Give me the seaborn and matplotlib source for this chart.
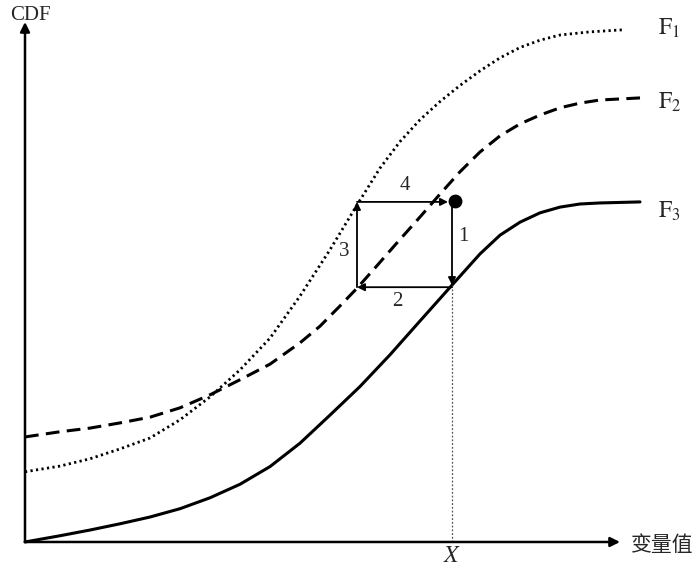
import matplotlib

matplotlib.use("Agg")
import matplotlib.pyplot as plt
import pandas as pd
import seaborn as sns

# values (x: variable value, y: CDF)
f1_x = [0, 35, 65, 95, 125, 155, 185, 215, 245, 275, 305, 332, 355, 375, 395, 415,
        435, 455, 475, 495, 515, 535, 565, 598]
f1_y = [0.135, 0.146, 0.160, 0.179, 0.200, 0.235, 0.279, 0.331, 0.392, 0.473, 0.562,
        0.648, 0.719, 0.770, 0.812, 0.847, 0.878, 0.906, 0.931, 0.951, 0.965, 0.975,
        0.981, 0.985]

f2_x = [0, 35, 65, 95, 125, 155, 185, 215, 245, 275, 295, 315, 332, 350, 370, 395,
        415, 435, 455, 475, 495, 515, 535, 555, 575, 615]
f2_y = [0.202, 0.212, 0.219, 0.229, 0.240, 0.258, 0.283, 0.312, 0.342, 0.383, 0.415,
        0.454, 0.488, 0.527, 0.571, 0.625, 0.669, 0.712, 0.750, 0.781, 0.804, 0.821,
        0.835, 0.844, 0.850, 0.854]

f3_x = [0, 35, 65, 95, 125, 155, 185, 215, 245, 275, 305, 335, 365, 395, 427, 455,
        475, 495, 515, 535, 555, 575, 615]
f3_y = [0.0, 0.012, 0.023, 0.035, 0.048, 0.064, 0.085, 0.111, 0.145, 0.190, 0.244,
        0.299, 0.360, 0.425, 0.494, 0.554, 0.590, 0.615, 0.633, 0.644, 0.650, 0.652,
        0.654]

curve_labels = [r"$\mathrm{F}_1$", r"$\mathrm{F}_2$", r"$\mathrm{F}_3$"]

# the loop: start point, its x value X, and the shifted level on F1
x_value = 427
x_left = 332
y_start = 0.656
y_low = 0.490
y_top = 0.654
step_labels = ["1", "2", "3", "4"]

sns.set_style("white")
plt.rcParams["font.family"] = ["Liberation Serif", "Noto Sans CJK SC", "DejaVu Sans"]
plt.rcParams["mathtext.fontset"] = "stix"

fig = plt.figure(figsize=(7, 5.71), dpi=100)
ax = fig.add_axes([0, 0, 1, 1])

curves = [
    (f1_x, f1_y, dict(lw=2.0, linestyle=(0, (0.8, 1.2)))),
    (f2_x, f2_y, dict(lw=2.2, linestyle=(0, (4.5, 2.4)))),
    (f3_x, f3_y, dict(lw=2.2, linestyle="-")),
]
for xs, ys, kw in curves:
    d = pd.DataFrame({"x": xs, "cdf": ys})
    sns.lineplot(data=d, x="x", y="cdf", color="black", ax=ax, sort=False, **kw)

# axes with arrow heads
arrow_kw = dict(arrowstyle="-|>", mutation_scale=14, lw=1.8, color="black",
                shrinkA=0, shrinkB=0)
ax.annotate("", xy=(0, 1.0), xytext=(0, 0), arrowprops=arrow_kw)
ax.annotate("", xy=(595, 0), xytext=(0, 0), arrowprops=arrow_kw)

# dotted drop line to X
ax.plot([x_value, x_value], [0, y_low + 0.004], color="#555555", lw=0.9,
        linestyle=(0, (1.5, 1.5)))

# the loop of arrows
step_kw = dict(arrowstyle="-|>", mutation_scale=11, lw=1.3, color="black",
               shrinkA=0, shrinkB=0)
ax.annotate("", xy=(x_value, y_low + 0.004), xytext=(x_value, y_start - 0.01), arrowprops=step_kw)
ax.annotate("", xy=(x_left, y_low), xytext=(x_value, y_low), arrowprops=step_kw)
ax.annotate("", xy=(x_left, y_top), xytext=(x_left, y_low), arrowprops=step_kw)
ax.annotate("", xy=(x_value - 4, y_top), xytext=(x_left, y_top), arrowprops=step_kw)
ax.scatter([x_value + 3], [y_start], s=80, color="black", zorder=5)

step_pos = [(438, 0.587), (372, 0.462), (319, 0.558), (380, 0.685)]
for lab, (tx, ty) in zip(step_labels, step_pos):
    ax.text(tx, ty, lab, fontsize=15, ha="center", va="center")

for lab, ty in zip(curve_labels, [0.988, 0.846, 0.635]):
    ax.text(633, ty, lab, fontsize=17, ha="left", va="center")

ax.text(5, 1.012, "CDF", fontsize=15, ha="center", va="center")
ax.text(x_value, -0.027, r"$X$", fontsize=17, ha="center", va="center")
ax.text(606, -0.006, "变量值", fontsize=15, ha="left", va="center",
        family=["Noto Sans CJK SC", "DejaVu Sans"])

ax.set_xlim(-25, 675)
ax.set_ylim(-0.0558, 1.0423)
ax.axis("off")

fig.savefig("out.png", dpi=100)
